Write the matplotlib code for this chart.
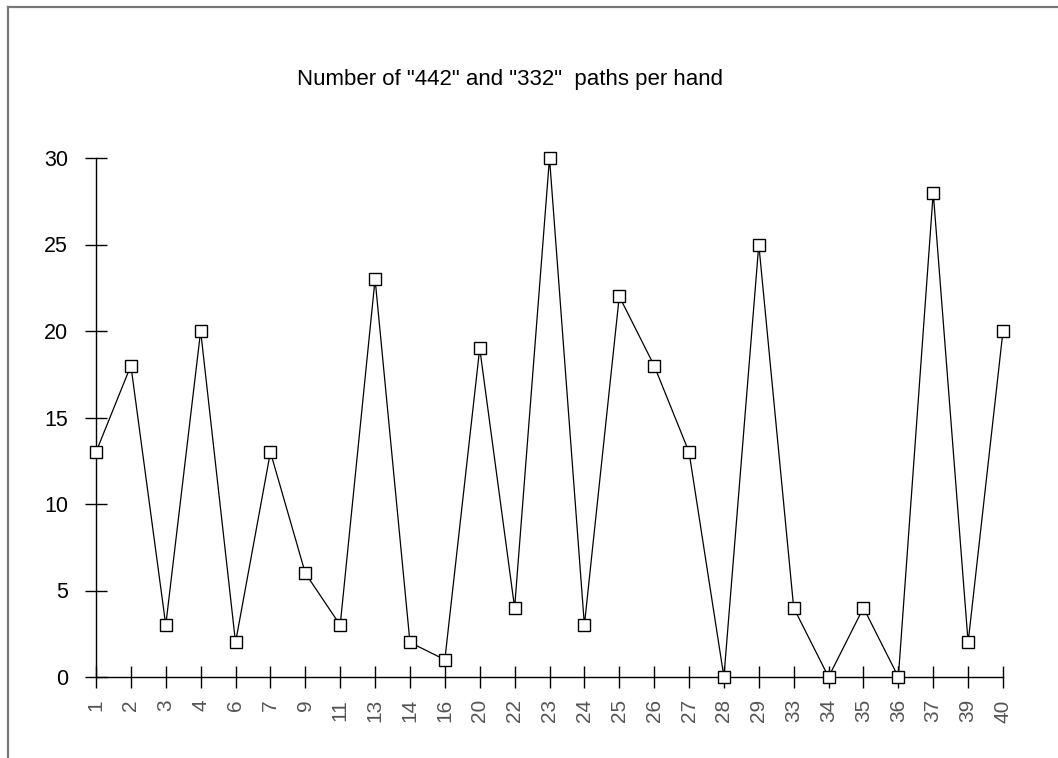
import matplotlib.pyplot as plt
from matplotlib.lines import Line2D

# numéros des mains et nombre de chemins
hands = ['1', '2', '3', '4', '6', '7', '9', '11', '13', '14', '16', '20', '22', '23',
         '24', '25', '26', '27', '28', '29', '33', '34', '35', '36', '37', '39', '40']
paths = [13, 18, 3, 20, 2, 13, 6, 3, 23, 2, 1, 19, 4, 30,
         3, 22, 18, 13, 0, 25, 4, 0, 4, 0, 28, 2, 20]
yticks = [0, 5, 10, 15, 20, 25, 30]

plt.rcParams['font.family'] = ['Liberation Sans', 'DejaVu Sans']

W, H = 1058, 758
fig = plt.figure(figsize=(W / 100, H / 100), dpi=100)

# position des axes en pixels
left, right, bottom, top = 96, 1003, 677, 158
ax = fig.add_axes([left / W, 1 - bottom / H, (right - left) / W, (bottom - top) / H])

x = list(range(len(hands)))
ax.plot(x, paths, color='black', lw=0.9, marker='s', ms=9,
        mfc='white', mec='black', mew=1.0, clip_on=False, zorder=3)

ax.set_xlim(0, len(hands) - 1)
ax.set_ylim(0, 30)
ax.set_xticks(x)
ax.set_xticklabels(hands, rotation=90, fontsize=15, color='#555555')
ax.set_yticks(yticks)
ax.set_yticklabels([str(v) for v in yticks], fontsize=15.5)

for s in ['top', 'right']:
    ax.spines[s].set_visible(False)
for s in ['left', 'bottom']:
    ax.spines[s].set_linewidth(1.0)

ax.tick_params(axis='both', direction='inout', length=16, width=1.0)
ax.tick_params(axis='x', pad=8)
ax.tick_params(axis='y', pad=12)

fig.text(510 / W, 1 - 80 / H, 'Number of "442" and "332"  paths per hand',
         ha='center', va='center', fontsize=16)

# cadre gris (haut et gauche)
fig.add_artist(Line2D([8 / W, 1], [1 - 7 / H, 1 - 7 / H], color='#777777', lw=1.6,
                      transform=fig.transFigure))
fig.add_artist(Line2D([8 / W, 8 / W], [1 - 7 / H, 0], color='#777777', lw=1.6,
                      transform=fig.transFigure))

fig.savefig('out.png', dpi=100)
